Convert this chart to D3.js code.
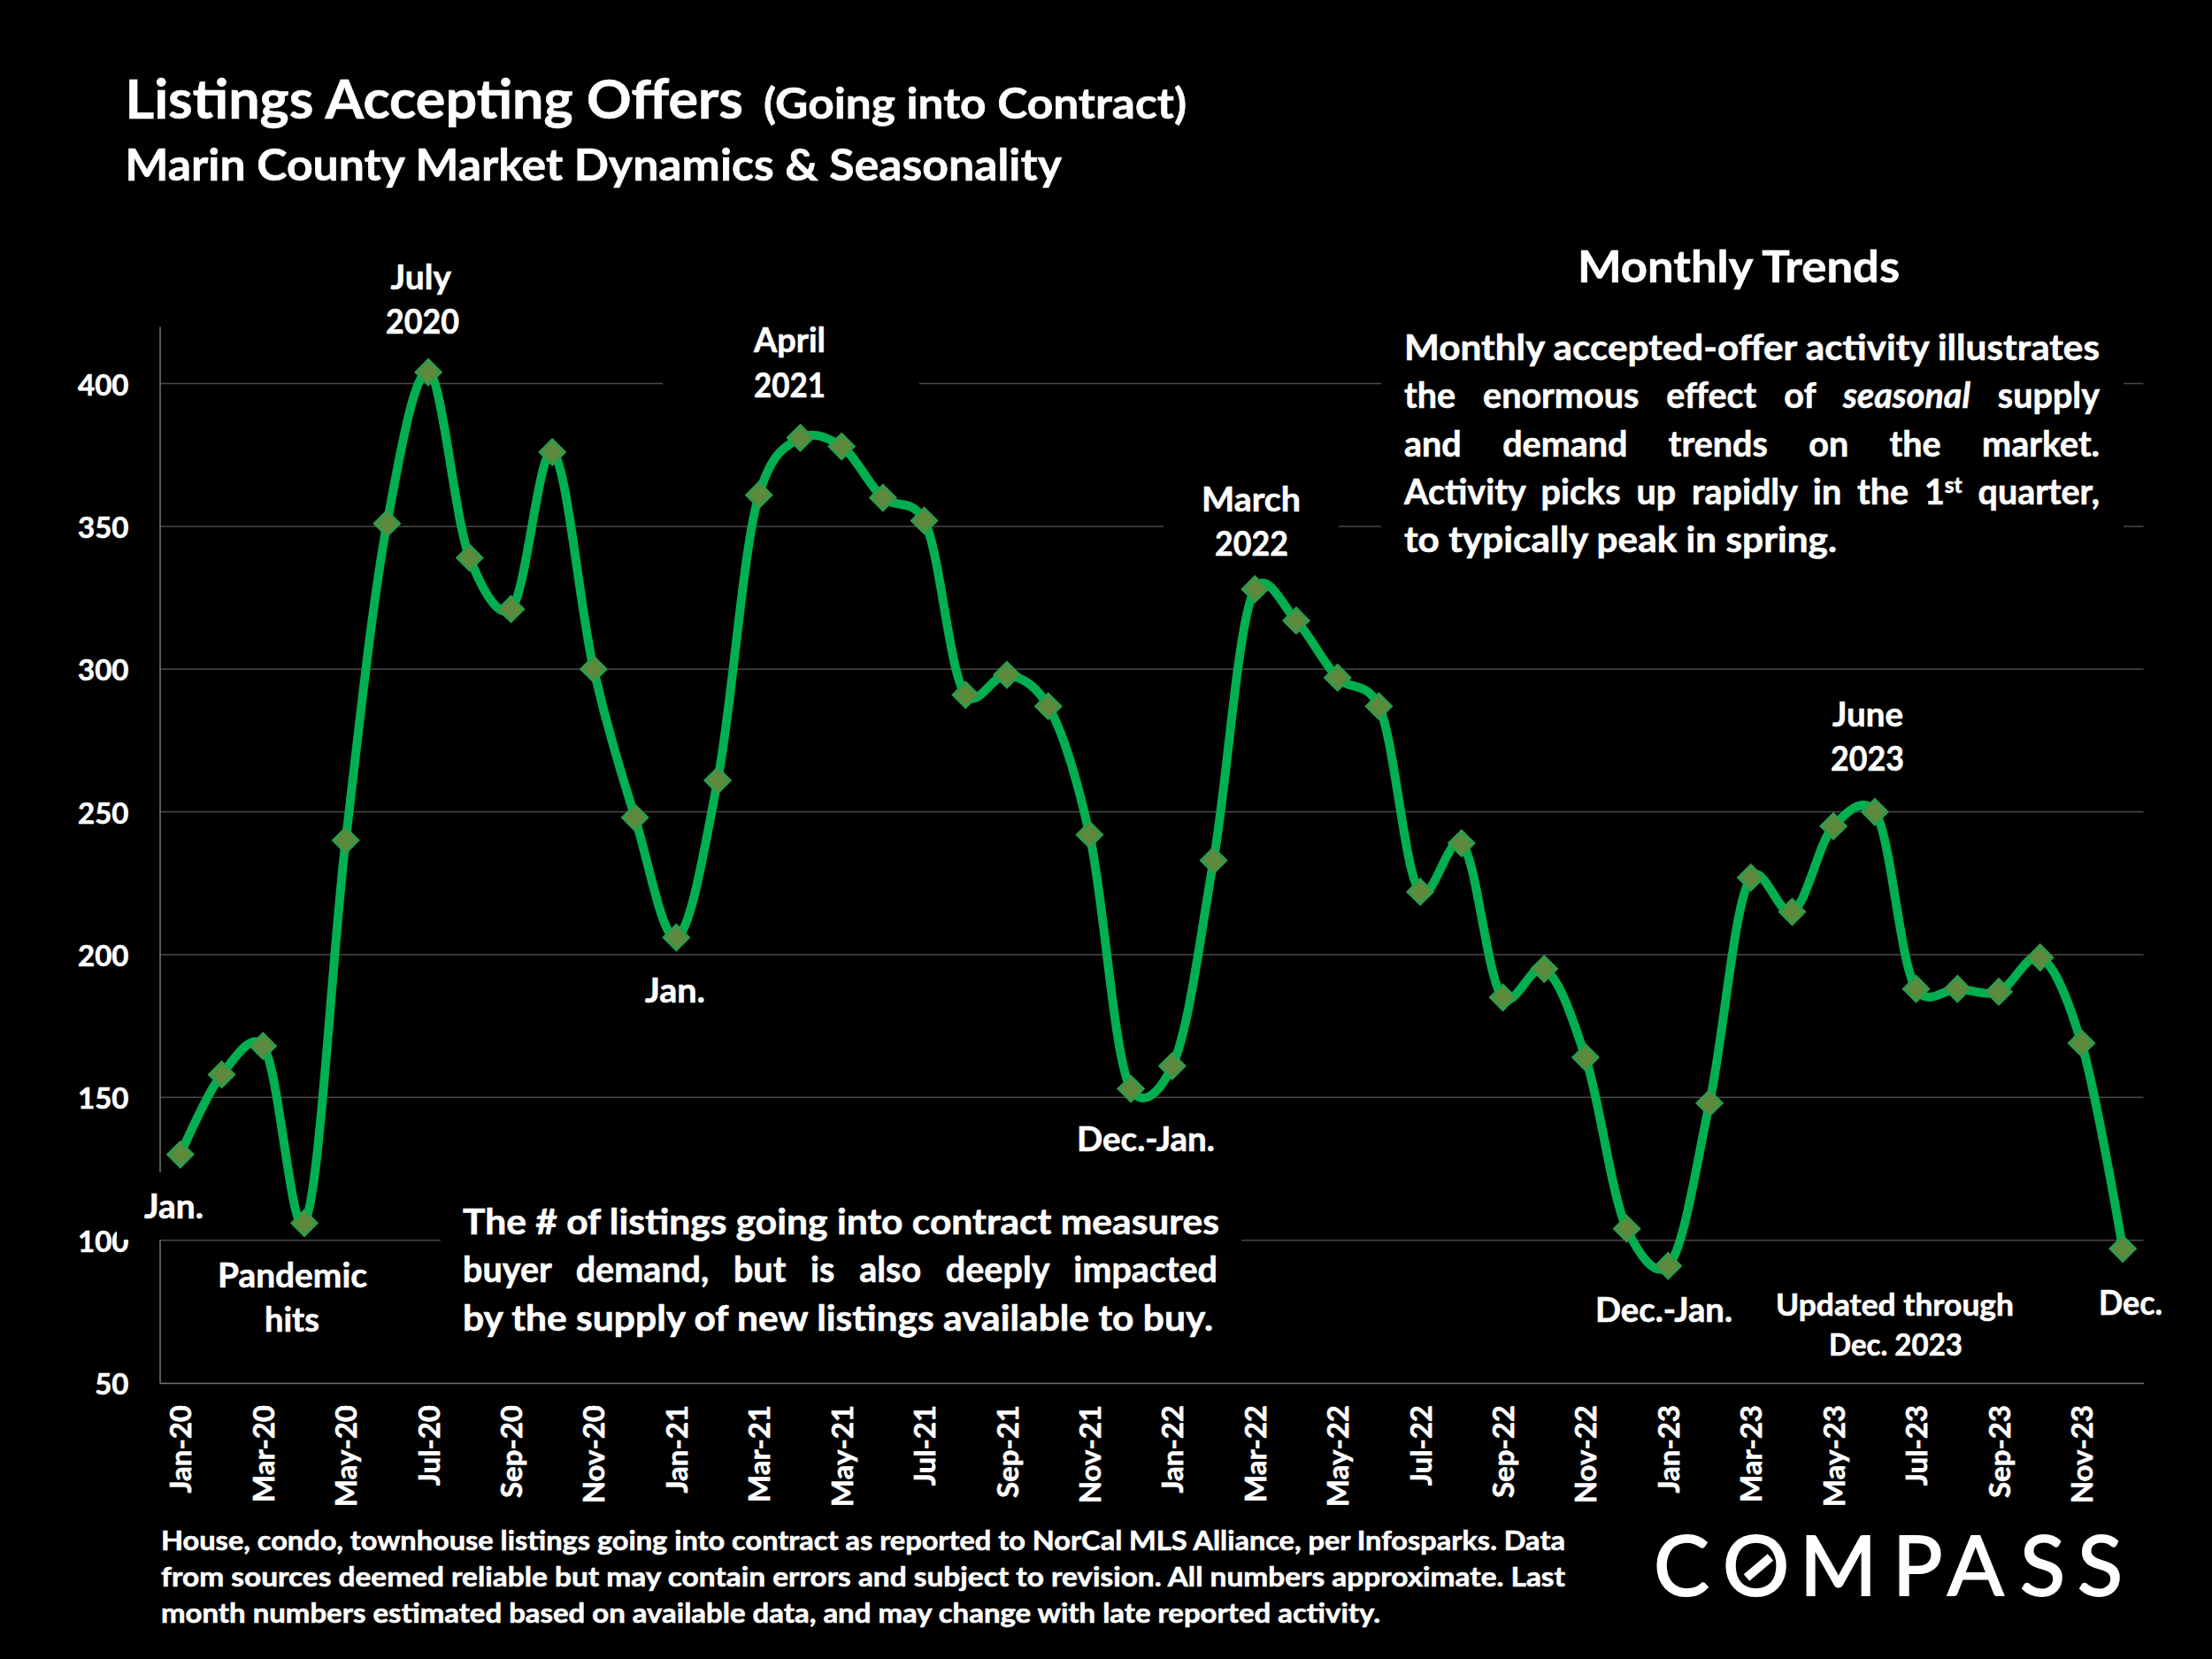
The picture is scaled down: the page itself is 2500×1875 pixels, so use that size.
<!DOCTYPE html>
<html>
<head>
<meta charset="utf-8">
<script src="https://cdn.jsdelivr.net/npm/d3@7"></script>
<style>
  html, body { margin: 0; padding: 0; background: #000; overflow: hidden; }
  text { font-family: Lato, "Noto Sans", sans-serif; font-weight: 700; fill: #fff; stroke: #fff; stroke-width: 0.6px; }
</style>
</head>
<body>
<svg id="canvas" width="2500" height="1875"></svg>
<script>
var months = [
  'Jan-20','Feb-20','Mar-20','Apr-20','May-20','Jun-20','Jul-20','Aug-20','Sep-20','Oct-20','Nov-20','Dec-20',
  'Jan-21','Feb-21','Mar-21','Apr-21','May-21','Jun-21','Jul-21','Aug-21','Sep-21','Oct-21','Nov-21','Dec-21',
  'Jan-22','Feb-22','Mar-22','Apr-22','May-22','Jun-22','Jul-22','Aug-22','Sep-22','Oct-22','Nov-22','Dec-22',
  'Jan-23','Feb-23','Mar-23','Apr-23','May-23','Jun-23','Jul-23','Aug-23','Sep-23','Oct-23','Nov-23','Dec-23'
]
var listings = [
  130,158,168,106,240,351,404,339,321,376,300,248,
  206,261,361,381,378,360,352,291,298,287,242,153,
  161,233,328,317,297,287,222,239,185,195,164,104,
  91,148,227,215,245,250,188,188,187,199,169,97
]
var tickLabels = [
  'Jan-20','Mar-20','May-20','Jul-20','Sep-20','Nov-20',
  'Jan-21','Mar-21','May-21','Jul-21','Sep-21','Nov-21',
  'Jan-22','Mar-22','May-22','Jul-22','Sep-22','Nov-22',
  'Jan-23','Mar-23','May-23','Jul-23','Sep-23','Nov-23'
]
var yTicks = [50,100,150,200,250,300,350,400]

// plot area edges ("top" is taken by window.top, so prefix them)
var plotLeft = 180.5, plotRight = 2422.5, plotBottom = 1563, plotTop = 369
var svg = d3.select('#canvas')
svg.append('rect').attr('width', 2500).attr('height', 1875).attr('fill', '#000')

var x = d3.scaleBand().domain(months).range([plotLeft, plotRight])
var y = d3.scaleLinear().domain([50, 420]).range([plotBottom, plotTop])
var cx = function(d) { return x(d) + x.bandwidth() / 2 }

// grid
svg.append('g').selectAll('line')
  .data(yTicks.slice(1))
  .enter().append('line')
  .attr('x1', plotLeft).attr('x2', plotRight)
  .attr('y1', function(d) { return y(d) }).attr('y2', function(d) { return y(d) })
  .attr('stroke', '#4a4a4a').attr('stroke-width', 1.5)

// axes
var yAxis = svg.append('g')
  .attr('transform', 'translate(' + plotLeft + ',0)')
  .call(d3.axisLeft(y).tickValues(yTicks).tickSize(0).tickPadding(35))
yAxis.select('.domain').attr('stroke', '#767676').attr('stroke-width', 1.5)
yAxis.selectAll('text').style('font-size', '33px').attr('dy', '0.38em')

var xAxis = svg.append('g')
  .attr('transform', 'translate(0,' + plotBottom + ')')
  .call(d3.axisBottom(x).tickValues(tickLabels).tickSize(0))
xAxis.select('.domain').attr('stroke', '#767676').attr('stroke-width', 1.5)
xAxis.selectAll('text')
  .style('font-size', '33px')
  .attr('transform', 'rotate(-90)')
  .attr('text-anchor', 'end')
  .attr('x', -25).attr('y', 0).attr('dy', '0.38em')

// black text boxes that sit over the grid in the slide
var boxes = [
  [132, 1325, 130, 76],
  [498, 1350, 905, 170],
  [749, 370, 290, 90],
  [1315, 540, 198, 100],
  [1561, 375, 839, 265]
]
svg.append('g').selectAll('rect')
  .data(boxes)
  .enter().append('rect')
  .attr('x', function(d) { return d[0] }).attr('y', function(d) { return d[1] })
  .attr('width', function(d) { return d[2] }).attr('height', function(d) { return d[3] })
  .attr('fill', '#000')

// line + markers
var line = d3.line()
  .x(function(d, i) { return cx(months[i]) })
  .y(function(d) { return y(d) })
  .curve(d3.curveCatmullRom.alpha(0.2))

svg.append('path')
  .datum(listings)
  .attr('d', line)
  .attr('fill', 'none')
  .attr('stroke', '#00b050')
  .attr('stroke-width', 10)
  .attr('stroke-linejoin', 'round')

svg.append('g').selectAll('path')
  .data(listings)
  .enter().append('path')
  .attr('d', 'M0,-14L14,0L0,14L-14,0Z')
  .attr('transform', function(d, i) { return 'translate(' + cx(months[i]) + ',' + y(d) + ')' })
  .attr('fill', '#5d8a3c')
  .attr('stroke', '#2f9c4b')
  .attr('stroke-width', 3)

// text helpers
function fit(txt, x0, base, w, size) {
  var t = svg.append('text').attr('x', x0).attr('y', base).style('font-size', size + 'px').text(txt)
  t.attr('textLength', w).attr('lengthAdjust', 'spacingAndGlyphs')
  return t
}
function justify(parts, x0, base, w, size) {
  var t = svg.append('text').attr('x', x0).attr('y', base).style('font-size', size + 'px')
  var spaces = 0
  parts.forEach(function(p) {
    var s = t.append('tspan').text(p.t)
    if (p.italic) s.style('font-style', 'italic')
    if (p.sup) s.style('font-size', (size * 0.62) + 'px').attr('dy', -13)
    if (p.after) s.attr('dy', 13)
    spaces += (p.t.match(/ /g) || []).length
  })
  var natural = t.node().getComputedTextLength()
  t.style('word-spacing', ((w - natural) / spaces) + 'px')
  return t
}

// title
fit('Listings Accepting Offers', 141.5, 134, 698.5, 62)
fit('(Going into Contract)', 863, 134, 478, 47)
fit('Marin County Market Dynamics & Seasonality', 141.5, 204, 1058.5, 49)

// callouts: label, left, baseline, width
var callouts = [
  ['July', 441.6, 327, 68.4],
  ['2020', 436, 377, 83],
  ['April', 852, 398, 81],
  ['2021', 852, 449, 81],
  ['March', 1358, 578, 112],
  ['2022', 1373, 628, 83],
  ['Jan.', 163, 1377, 67],
  ['Pandemic', 246, 1455, 169],
  ['hits', 299, 1505, 62],
  ['Jan.', 729, 1133, 68],
  ['Dec.-Jan.', 1217, 1301, 156],
  ['June', 2071, 821, 80],
  ['2023', 2069, 871, 83],
  ['Dec.-Jan.', 1803, 1494, 155],
  ['Dec.', 2372, 1486, 72]
]
callouts.forEach(function(c) { fit(c[0], c[1], c[2], c[3], 39) })
fit('Updated through', 2007, 1487, 269, 34)
fit('Dec. 2023', 2067, 1532, 151, 34)

// monthly trends box
fit('Monthly Trends', 1783, 319, 364, 49)
fit('Monthly accepted-offer activity illustrates', 1587, 407, 786, 39.5)
justify([{t: 'the enormous effect of '}, {t: 'seasonal', italic: true}, {t: ' supply'}], 1587, 461, 786, 39.5)
justify([{t: 'and demand trends on the market.'}], 1587, 516, 786, 39.5)
justify([{t: 'Activity picks up rapidly in the 1'}, {t: 'st', sup: true}, {t: ' quarter,', after: true}], 1587, 570, 786, 39.5)
fit('to typically peak in spring.', 1587, 624, 489, 39.5)

// lower box
fit('The # of listings going into contract measures', 523, 1395, 855, 39.5)
justify([{t: 'buyer demand, but is also deeply impacted'}], 523, 1449, 853, 39.5)
fit('by the supply of new listings available to buy.', 523, 1504, 848, 39.5)

// footnote
fit('House, condo, townhouse listings going into contract as reported to NorCal MLS Alliance, per Infosparks. Data', 182, 1752, 1587, 29.5)
fit('from sources deemed reliable but may contain errors and subject to revision. All numbers approximate. Last', 182, 1793, 1587, 29.5)
fit('month numbers estimated based on available data, and may change with late reported activity.', 182, 1834, 1378, 29.5)

// logo
svg.append('text')
  .attr('x', '1869 1947 2034 2139 2201 2283 2348')
  .attr('y', 1803)
  .style('font-size', '94px').style('font-weight', 400).style('stroke-width', '2px')
  .text('COMPASS')
svg.append('line')
  .attr('x1', 1974).attr('y1', 1783).attr('x2', 2001).attr('y2', 1760)
  .attr('stroke', '#fff').attr('stroke-width', 10)
</script>
</body>
</html>
